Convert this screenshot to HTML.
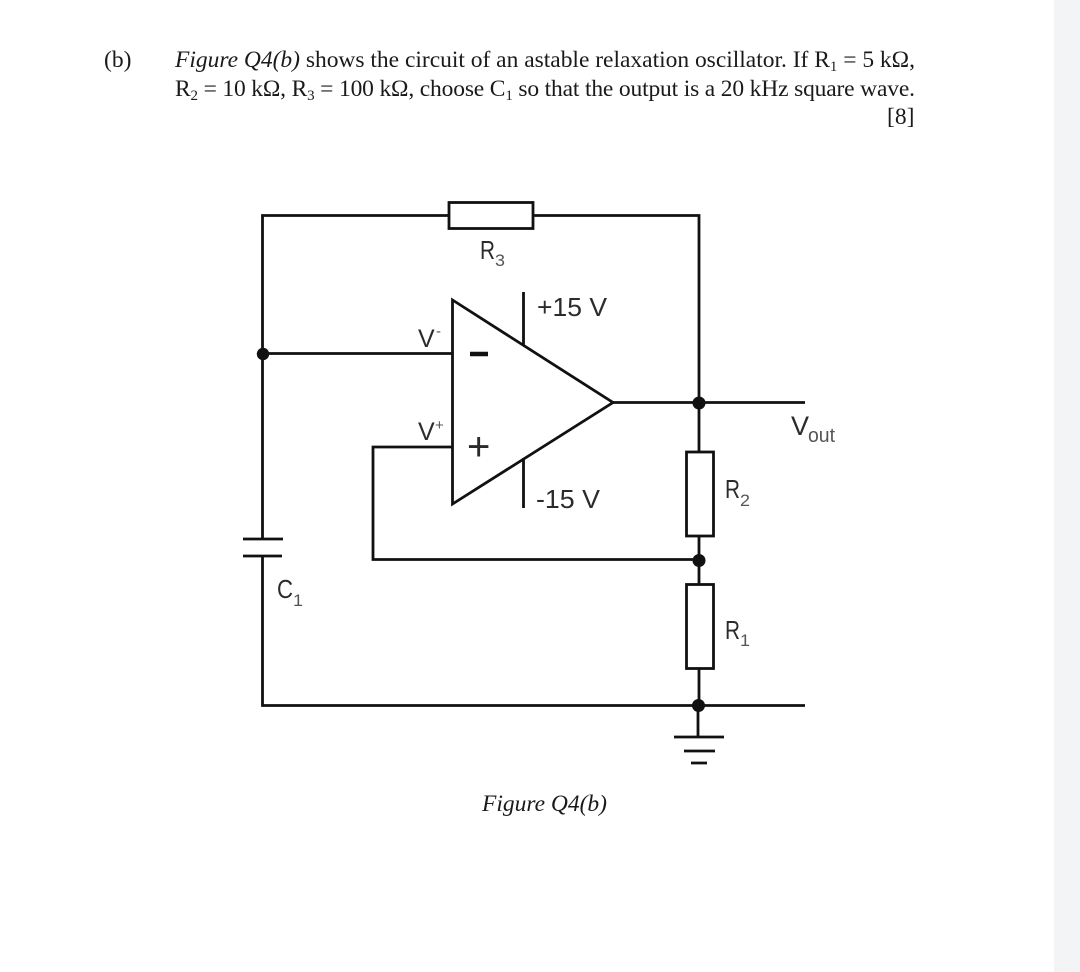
<!DOCTYPE html>
<html>
<head>
<meta charset="utf-8">
<style>
html,body{margin:0;padding:0;background:#fff;}
svg{display:block;}
.s{font-family:"Liberation Serif",serif;font-size:23.5px;fill:#1a1a1a;}
.d{font-family:"Liberation Sans",sans-serif;font-size:26px;fill:#2b2b2b;}
.u{font-family:"Liberation Sans",sans-serif;font-size:17px;fill:#555;}
.soft{filter:blur(0.35px);}
</style>
</head>
<body>
<svg width="1080" height="972" viewBox="0 0 1080 972" xmlns="http://www.w3.org/2000/svg">
<rect width="1080" height="972" fill="#fff"/>
<rect x="1054" y="0" width="26" height="972" fill="#f3f4f6"/>
<g class="soft">
<text class="s" x="104" y="67">(b)</text>
<text class="s" x="175" y="67" textLength="740"><tspan font-style="italic">Figure Q4(b)</tspan> shows the circuit of an astable relaxation oscillator. If R<tspan font-size="15" dy="4">1</tspan><tspan dy="-4"> = 5 kΩ,</tspan></text>
<text class="s" x="175" y="96" textLength="740">R<tspan font-size="15" dy="4">2</tspan><tspan dy="-4"> = 10 kΩ, R</tspan><tspan font-size="15" dy="4">3</tspan><tspan dy="-4"> = 100 kΩ, choose C</tspan><tspan font-size="15" dy="4">1</tspan><tspan dy="-4"> so that the output is a 20 kHz square wave.</tspan></text>
<text class="s" x="887" y="124">[8]</text>
<g fill="none" stroke="#111" stroke-width="2.8">
<path d="M449 215.5H262.5V539M533 215.5H699V451"/>
<rect x="449" y="202.5" width="84" height="26"/>
<path d="M452.5 300V504L613 402.5Z"/>
<path d="M262.5 353.5H452M613 402.5H805"/>
<path d="M452 447H373V559.5H699"/>
<path d="M523.5 292V345M523.5 458V508"/>
<path d="M243 539H283M243 556H282"/>
<path d="M262.5 556V705.5H805"/>
<rect x="686.5" y="452" width="27" height="84"/>
<rect x="686.5" y="584.5" width="27" height="84"/>
<path d="M699 536V584M699 668V705M698 705V737"/>
<path d="M674 737H724M684 751H715M691 763H707"/>
</g>
<path d="M470 354H488" stroke="#111" stroke-width="4.5"/>
<g fill="#111">
<circle cx="263" cy="354" r="6.2"/>
<circle cx="699" cy="403" r="6.5"/>
<circle cx="699" cy="560.5" r="6.5"/>
<circle cx="698.5" cy="705.5" r="6.5"/>
</g>
<text class="d" x="467" y="460" style="font-size:40px">+</text>
<text class="d" x="480" y="259" textLength="15" lengthAdjust="spacingAndGlyphs">R</text>
<text class="u" x="495" y="266" textLength="10" lengthAdjust="spacingAndGlyphs">3</text>
<text class="d" x="537" y="316" textLength="70" lengthAdjust="spacingAndGlyphs">+15 V</text>
<text class="d" x="536" y="508" textLength="64" lengthAdjust="spacingAndGlyphs">-15 V</text>
<text class="d" x="418" y="347" style="font-size:25px">V</text>
<text class="u" x="436" y="336" style="font-size:15px">-</text>
<text class="d" x="418" y="440" style="font-size:25px">V</text>
<text class="u" x="435" y="430" style="font-size:15px">+</text>
<text class="d" x="791" y="435" style="font-size:27px">V</text>
<text class="u" x="808" y="442" style="font-size:20px" textLength="27" lengthAdjust="spacingAndGlyphs">out</text>
<text class="d" x="725" y="498" textLength="15" lengthAdjust="spacingAndGlyphs">R</text>
<text class="u" x="740" y="506" textLength="10" lengthAdjust="spacingAndGlyphs">2</text>
<text class="d" x="725" y="639" textLength="15" lengthAdjust="spacingAndGlyphs">R</text>
<text class="u" x="740" y="646" textLength="10" lengthAdjust="spacingAndGlyphs">1</text>
<text class="d" x="277" y="598" textLength="16" lengthAdjust="spacingAndGlyphs">C</text>
<text class="u" x="293" y="606" textLength="10" lengthAdjust="spacingAndGlyphs">1</text>
<text class="s" x="482" y="811" font-style="italic" textLength="125">Figure Q4(b)</text>
</g>
</svg>
</body>
</html>
